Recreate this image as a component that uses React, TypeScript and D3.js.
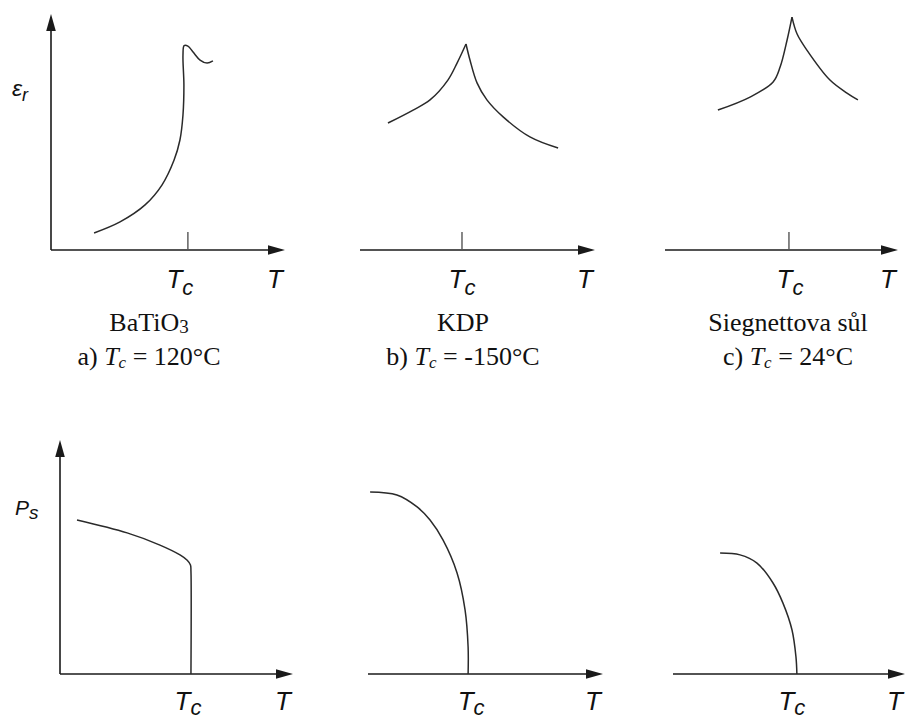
import React from "react";
import * as d3 from "d3";

const W = 906;
const H = 720;

type Pt = [number, number];

// Relative permittivity ε_r(T); both axes in arbitrary units (0–100 along each axis)
const batio3Permittivity: Pt[] = [
  [18.4, 7.2], [29.5, 11.9], [40.2, 19.1], [47.4, 27.5], [52.6, 38.1],
  [55.1, 46.6], [56.4, 57.2], [56.8, 69.9], [56.4, 82.6], [56.9, 86.6],
  [58.5, 86.4], [60.7, 83.9], [63.7, 80.5], [66.7, 79.2], [69.2, 80.1],
];
const kdpPermittivityBelow: Pt[] = [
  [11.9, 53.8], [22.6, 59.3], [29.8, 63.6], [37.4, 72.0], [41.3, 79.2], [45.1, 87.3],
];
const kdpPermittivityAbove: Pt[] = [
  [45.1, 87.3], [46.8, 80.5], [49.8, 70.8], [54.0, 63.6], [60.9, 56.4], [72.3, 47.9], [84.3, 43.2],
];
const rochellePermittivityBelow: Pt[] = [
  [22.7, 59.3], [36.5, 64.8], [46.4, 71.2], [49.4, 77.5], [52.4, 89.0], [54.5, 98.7],
];
const rochellePermittivityAbove: Pt[] = [
  [54.5, 98.7], [56.7, 91.5], [60.9, 84.7], [70.8, 72.0], [78.1, 66.5], [82.8, 63.6],
];

// Spontaneous polarization P_s(T)
const batio3Polarization: Pt[] = [
  [7.3, 65.8], [28.8, 60.3], [42.9, 55.1], [51.5, 50.9], [54.6, 48.6],
  [56.0, 46.6], [56.2, 44.0], [56.2, 0],
];
const kdpPolarization: Pt[] = [
  [0.9, 77.8], [12.3, 76.5], [20.9, 71.4], [26.4, 65.8], [31.9, 57.3],
  [37.9, 43.2], [41.3, 27.4], [42.6, 11.5], [42.6, 0],
];
const rochellePolarization: Pt[] = [
  [20.3, 51.7], [28.9, 50.9], [36.2, 47.4], [43.1, 38.9], [47.4, 30.3],
  [51.3, 18.8], [53.0, 7.3], [53.4, 0],
];

// Curie temperatures on each axis
const permittivityTc = [58.5, 43.4, 53.2];
const polarizationTc = [56.2, 42.6, 53.4];

// Captions
const materials = ["BaTiO", "KDP", "Siegnettova sůl"];
const materialSubscripts = ["3", "", ""];
const captionLetters = ["a)", "b)", "c)"];
const curieCelsius = ["120°C", "-150°C", "24°C"];

// Layout of the six panels (pixel geometry only)
const topColumns = [
  { x0: 51, x1: 285, tcShift: -8 },
  { x0: 360, x1: 595, tcShift: 0 },
  { x0: 665, x1: 898, tcShift: 1 },
];
const bottomColumns = [
  { x0: 60, x1: 293, tcShift: -3 },
  { x0: 368, x1: 603, tcShift: 3 },
  { x0: 673, x1: 905, tcShift: -5 },
];
const captionCenters = [149, 463, 788];
const topRow = { y0: 250, y1: 14, labelGap: 38, subDy: 7 };
const bottomRow = { y0: 674, y1: 440, labelGap: 36, subDy: 5 };

const topCurves: Pt[][][] = [
  [batio3Permittivity],
  [kdpPermittivityBelow, kdpPermittivityAbove],
  [rochellePermittivityBelow, rochellePermittivityAbove],
];
const bottomCurves: Pt[][][] = [
  [batio3Polarization],
  [kdpPolarization],
  [rochellePolarization],
];

const SANS = "'Liberation Sans', Arial, sans-serif";
const SERIF = "'Liberation Serif', 'Times New Roman', serif";
const AXIS = "#1a1a1a";
const CURVE = "#2a2a2a";

function Arrow({ x, y, dir }: { x: number; y: number; dir: "right" | "up" }) {
  const len = 17;
  const hw = 4.8;
  const pts =
    dir === "right"
      ? [[x, y], [x - len, y - hw], [x - len, y + hw]]
      : [[x, y], [x - hw, y + len], [x + hw, y + len]];
  return <polygon points={pts.map((p) => p.join(",")).join(" ")} fill={AXIS} />;
}

function TLabel({ x, y, sub, subDy }: { x: number; y: number; sub?: string; subDy?: number }) {
  return (
    <text x={x} y={y} fontFamily={SANS} fontStyle="italic" fontSize={26} fill="#111" textAnchor="middle">
      T
      {sub ? (
        <tspan fontSize={22} dy={subDy}>
          {sub}
        </tspan>
      ) : null}
    </text>
  );
}

type Row = { y0: number; y1: number; labelGap: number; subDy: number };

function Panel({
  x0, x1, row, curves, tc, tcShift, withYAxis, tick,
}: {
  x0: number; x1: number; row: Row; curves: Pt[][];
  tc: number; tcShift: number; withYAxis: boolean; tick: boolean;
}) {
  const x = d3.scaleLinear().domain([0, 100]).range([x0, x1]);
  const y = d3.scaleLinear().domain([0, 100]).range([row.y0, row.y1]);
  const line = d3
    .line<Pt>()
    .x((d) => x(d[0]))
    .y((d) => y(d[1]))
    .curve(d3.curveCatmullRom.alpha(0.5));
  const labelY = row.y0 + row.labelGap;
  return (
    <g>
      <line x1={x(0)} x2={x(100) - 12} y1={y(0)} y2={y(0)} stroke={AXIS} strokeWidth={1.6} />
      <Arrow x={x(100)} y={y(0)} dir="right" />
      {withYAxis ? (
        <>
          <line x1={x(0)} x2={x(0)} y1={y(0)} y2={y(100) + 12} stroke={AXIS} strokeWidth={1.6} />
          <Arrow x={x(0)} y={y(100)} dir="up" />
        </>
      ) : null}
      {tick ? (
        <line x1={x(tc)} x2={x(tc)} y1={y(0)} y2={y(0) - 18} stroke="#555" strokeWidth={1.4} />
      ) : null}
      {curves.map((c, i) => (
        <path key={i} d={line(c) ?? ""} fill="none" stroke={CURVE} strokeWidth={1.5} />
      ))}
      <TLabel x={x(tc) + tcShift} y={labelY} sub="c" subDy={row.subDy} />
      <TLabel x={x(100) - 10} y={labelY} />
    </g>
  );
}

export default function App() {
  return (
    <svg
      width={W}
      height={H}
      viewBox={`0 0 ${W} ${H}`}
      style={{ position: "absolute", left: 0, top: 0, background: "#fff" }}
    >
      {topColumns.map((c, i) => (
        <Panel
          key={`t${i}`}
          x0={c.x0}
          x1={c.x1}
          row={topRow}
          curves={topCurves[i]}
          tc={permittivityTc[i]}
          tcShift={c.tcShift}
          withYAxis={i === 0}
          tick
        />
      ))}
      {bottomColumns.map((c, i) => (
        <Panel
          key={`b${i}`}
          x0={c.x0}
          x1={c.x1}
          row={bottomRow}
          curves={bottomCurves[i]}
          tc={polarizationTc[i]}
          tcShift={c.tcShift}
          withYAxis={i === 0}
          tick={false}
        />
      ))}

      {/* axis quantities */}
      <text x={12} y={96} fontFamily={SANS} fontStyle="italic" fontSize={23} fill="#111">
        ε
        <tspan fontSize={18} dy={5}>r</tspan>
      </text>
      <text x={15} y={515} fontFamily={SANS} fontStyle="italic" fontSize={21} fill="#111">
        P
        <tspan fontSize={19} dy={4}>s</tspan>
      </text>

      {/* material captions */}
      {captionCenters.map((cx, i) => (
        <g key={`cap${i}`} fontFamily={SERIF} fontSize={26} fill="#111" textAnchor="middle">
          <text x={cx} y={331}>
            {materials[i]}
            {materialSubscripts[i] ? (
              <tspan fontSize={19} dy={2}>{materialSubscripts[i]}</tspan>
            ) : null}
          </text>
          <text x={cx} y={365}>
            {captionLetters[i]}{" "}
            <tspan fontStyle="italic">T</tspan>
            <tspan fontStyle="italic" fontSize={17} dy={3}>c</tspan>
            <tspan dy={-3}>{" = "}{curieCelsius[i]}</tspan>
          </text>
        </g>
      ))}
    </svg>
  );
}
